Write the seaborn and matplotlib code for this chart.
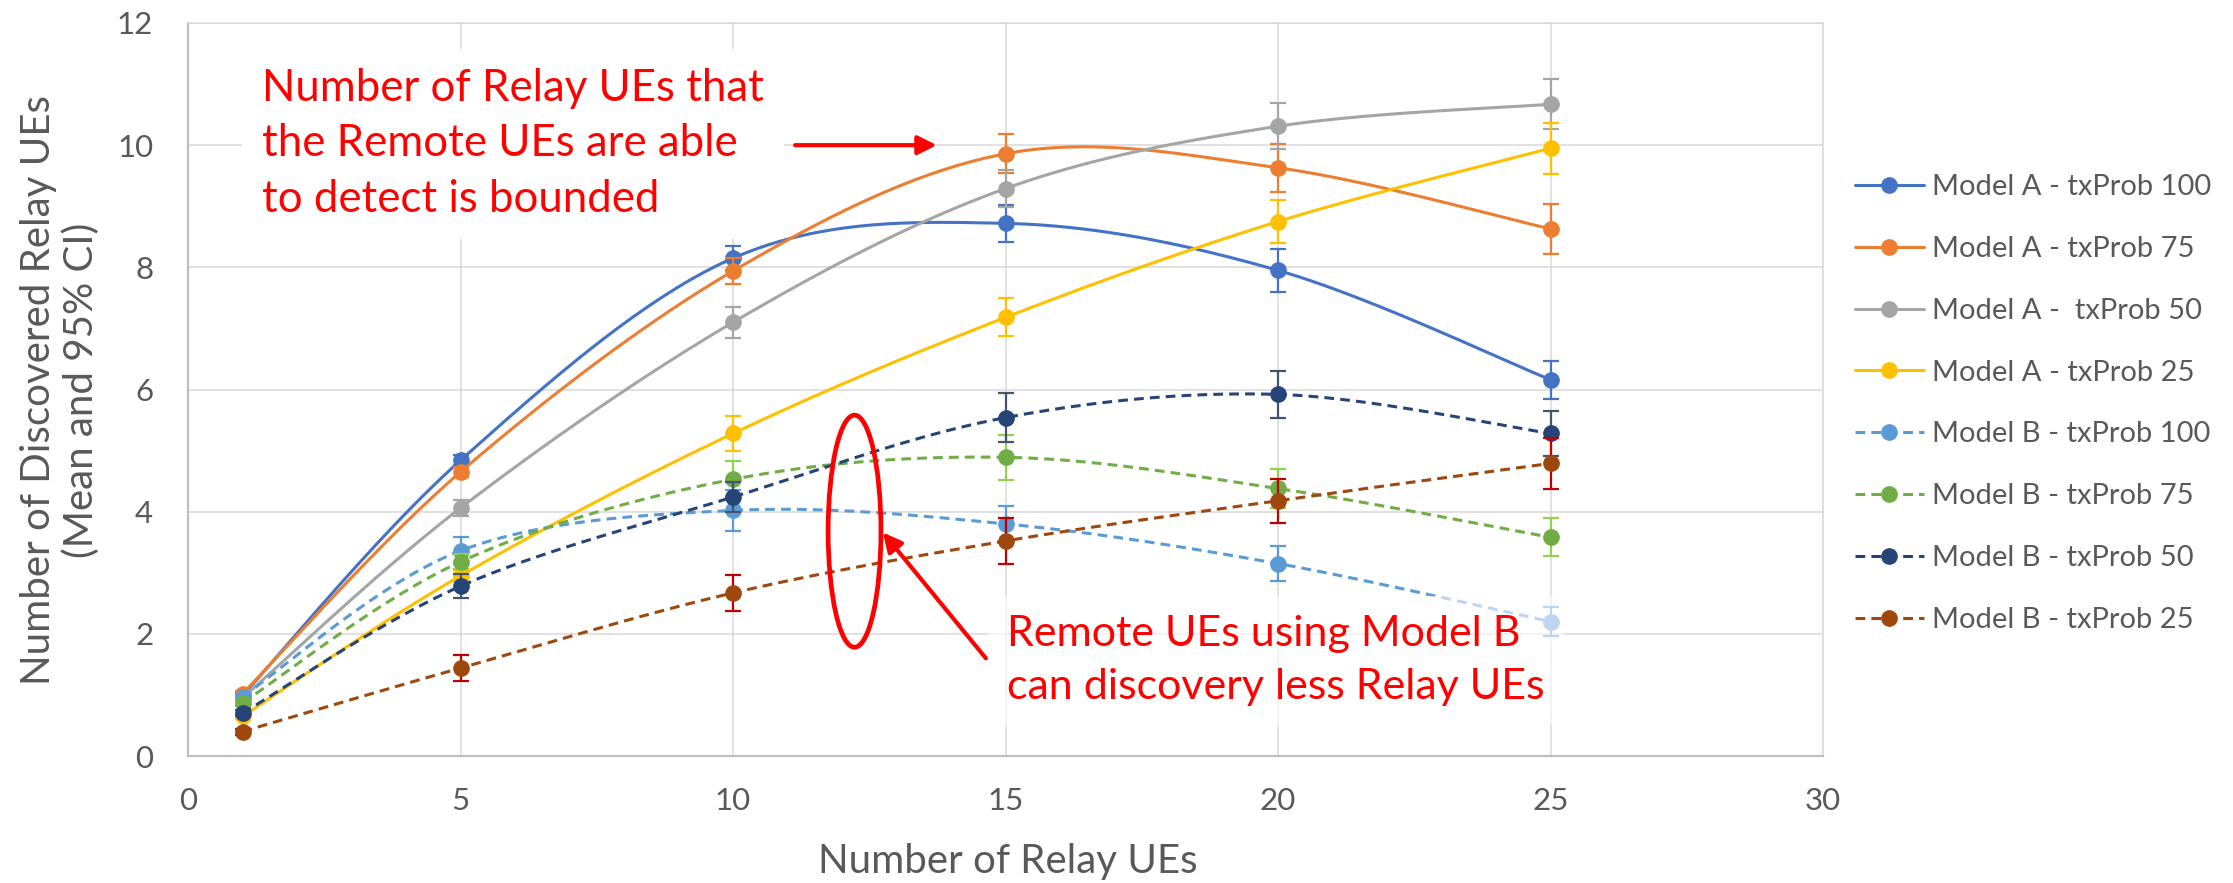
import matplotlib
matplotlib.use("Agg")
import matplotlib.pyplot as plt
from matplotlib.lines import Line2D
from matplotlib.patches import Ellipse
import seaborn as sns
import numpy as np

# datos
relay_ues = [1, 5, 10, 15, 20, 25]

series_names = ["Model A - txProb 100", "Model A - txProb 75", "Model A -  txProb 50",
                "Model A - txProb 25", "Model B - txProb 100", "Model B - txProb 75",
                "Model B - txProb 50", "Model B - txProb 25"]

a_100 = [0.99, 4.84, 8.15, 8.72, 7.95, 6.16]
a_75 = [1.02, 4.65, 7.94, 9.86, 9.63, 8.63]
a_50 = [0.95, 4.06, 7.10, 9.29, 10.31, 10.67]
a_25 = [0.65, 2.95, 5.28, 7.18, 8.75, 9.95]
b_100 = [0.97, 3.36, 4.02, 3.80, 3.15, 2.20]
b_75 = [0.87, 3.18, 4.53, 4.89, 4.38, 3.58]
b_50 = [0.70, 2.78, 4.24, 5.54, 5.92, 5.28]
b_25 = [0.40, 1.44, 2.67, 3.52, 4.18, 4.79]

ci_a_100 = [0.05, 0.08, 0.20, 0.30, 0.35, 0.31]
ci_a_75 = [0.05, 0.08, 0.22, 0.32, 0.39, 0.41]
ci_a_50 = [0.05, 0.13, 0.25, 0.30, 0.38, 0.41]
ci_a_25 = [0.05, 0.10, 0.28, 0.31, 0.35, 0.42]
ci_b_100 = [0.05, 0.22, 0.34, 0.29, 0.28, 0.24]
ci_b_75 = [0.05, 0.12, 0.30, 0.37, 0.32, 0.31]
ci_b_50 = [0.05, 0.20, 0.25, 0.40, 0.38, 0.37]
ci_b_25 = [0.05, 0.21, 0.29, 0.37, 0.36, 0.42]

valores = [a_100, a_75, a_50, a_25, b_100, b_75, b_50, b_25]
errores = [ci_a_100, ci_a_75, ci_a_50, ci_a_25, ci_b_100, ci_b_75, ci_b_50, ci_b_25]

colores = ["#4472C4", "#ED7D31", "#A5A5A5", "#FFC000", "#5B9BD5", "#70AD47", "#264478", "#9E480E"]
colores_err = ["#4472C4", "#ED7D31", "#A5A5A5", "#FFC000", "#5B9BD5", "#92D050", "#44546A", "#C00000"]
estilos = ["-"] * 4 + [(0, (3.2, 2.0))] * 4


def suavizar(xs, ys, n=40):
    # curva suave tipo Excel (Bezier con puntos de control Catmull-Rom)
    p = np.column_stack([xs, ys]).astype(float)
    p = np.vstack([p[0], p, p[-1]])
    t = np.linspace(0, 1, n)[:, None]
    trozos = []
    for i in range(len(xs) - 1):
        p0, p1, p2, p3 = p[i], p[i + 1], p[i + 2], p[i + 3]
        c1 = p1 + (p2 - p0) / 6
        c2 = p2 - (p3 - p1) / 6
        seg = ((1 - t) ** 3) * p1 + 3 * ((1 - t) ** 2) * t * c1 + 3 * (1 - t) * t ** 2 * c2 + t ** 3 * p2
        trozos.append(seg if i == 0 else seg[1:])
    curva = np.vstack(trozos)
    return curva[:, 0], curva[:, 1]


sns.set_theme(style="whitegrid")
plt.rcParams['font.family'] = ['Lato', 'DejaVu Sans']

W, H = 2233, 883
fig = plt.figure(figsize=(W / 100, H / 100), dpi=100)
ax = fig.add_axes([188 / W, 1 - 756 / H, (1823 - 188) / W, (756 - 23) / H])
ax.set_facecolor("white")

for k in range(len(valores)):
    cx, cy = suavizar(relay_ues, valores[k])
    sns.lineplot(x=cx, y=cy, sort=False, estimator=None, ax=ax, color=colores[k],
                 linewidth=2.2, linestyle=estilos[k], legend=False, zorder=3 + k)
    ax.errorbar(relay_ues, valores[k], yerr=errores[k], fmt="none", ecolor=colores_err[k],
                elinewidth=1.6, capsize=6, capthick=1.6, zorder=3 + k)
    ax.plot(relay_ues, valores[k], "o", color=colores[k], markersize=11, zorder=3 + k)

ax.set_xlim(0, 30)
ax.set_ylim(0, 12)
ax.set_xticks(range(0, 31, 5))
ax.set_yticks(range(0, 13, 2))
ax.grid(True, color="#d9d9d9", linewidth=1.1)
ax.tick_params(axis="both", length=0, labelsize=22.5, labelcolor="#595959")
ax.tick_params(axis="y", pad=25)
ax.tick_params(axis="x", pad=22)
for lado in ["top", "right"]:
    ax.spines[lado].set_color("#d9d9d9")
    ax.spines[lado].set_linewidth(1.1)
for lado in ["left", "bottom"]:
    ax.spines[lado].set_color("#bfbfbf")
    ax.spines[lado].set_linewidth(1.6)
ax.set_xlabel("")
ax.set_ylabel("")

fig.text(1008 / W, 1 - 861 / H, "Number of Relay UEs", ha="center", va="center",
         fontsize=29, color="#595959")
fig.text(60 / W, 1 - 390 / H, "Number of Discovered Relay UEs\n(Mean and 95% CI)", rotation=90,
         ha="center", va="center", multialignment="center", fontsize=29, color="#595959",
         linespacing=1.15)

# anotaciones en rojo
flecha = dict(arrowstyle="-|>,head_length=0.38,head_width=0.19", color="red",
              lw=3, shrinkA=0, shrinkB=0, mutation_scale=30)
ax.text(1.36, 10.02, "Number of Relay UEs that\nthe Remote UEs are able\nto detect is bounded",
        ha="left", va="center", fontsize=31.5, color="red", linespacing=1.43, zorder=20,
        bbox=dict(boxstyle="square,pad=0.45", fc="white", ec="none", alpha=1.0))
ax.annotate("", xy=(13.74, 10.0), xytext=(11.14, 10.0), zorder=21, arrowprops=flecha)

ax.add_patch(Ellipse((12.23, 3.68), 0.97, 3.80, fill=False, ec="red", lw=3.4, zorder=21))
ax.annotate("", xy=(12.75, 3.66), xytext=(14.64, 1.60), zorder=21, arrowprops=flecha)
ax.text(15.03, 1.56, "Remote UEs using Model B\ncan discovery less Relay UEs",
        ha="left", va="center", fontsize=31, color="red", linespacing=1.47, zorder=20,
        bbox=dict(boxstyle="square,pad=0.45", fc="white", ec="none", alpha=0.6))

manejadores = [Line2D([0], [0], color=colores[k], lw=2.2, linestyle=estilos[k], marker="o",
                      markersize=11) for k in range(len(valores))]
fig.legend(manejadores, series_names, loc="upper left", bbox_to_anchor=(1855 / W, 1 - 174 / H),
           frameon=False, fontsize=21, handlelength=2.36, handletextpad=0.27,
           labelspacing=1.23, borderaxespad=0, borderpad=0, labelcolor="#595959")

fig.savefig("out.png", dpi=100, facecolor="white")
